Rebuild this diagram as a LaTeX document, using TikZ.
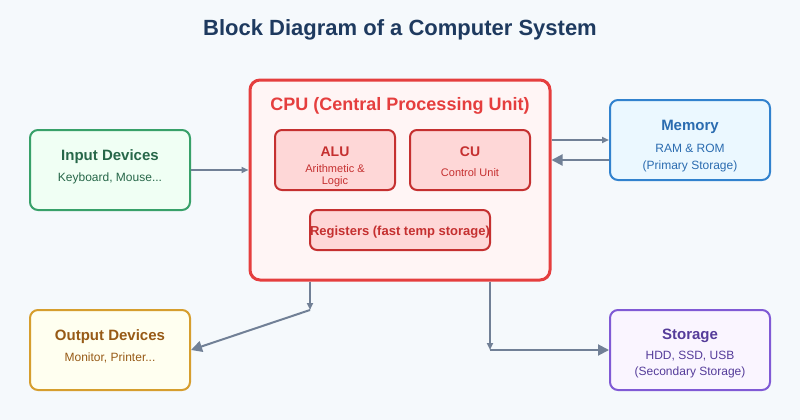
\documentclass[tikz,border=0pt]{standalone}
\usepackage{fontspec}
\setmainfont{Liberation Sans}
\usetikzlibrary{arrows.meta}
\definecolor{bgc}{HTML}{F5F9FC}
\definecolor{titlec}{HTML}{1E3A5F}
\definecolor{linkc}{HTML}{718096}
\definecolor{cpuc}{HTML}{E53E3E}
\definecolor{cpufill}{HTML}{FFF5F5}
\definecolor{partc}{HTML}{C53030}
\definecolor{partfill}{HTML}{FED7D7}
\definecolor{inc}{HTML}{38A169}
\definecolor{infill}{HTML}{F0FFF4}
\definecolor{intext}{HTML}{276749}
\definecolor{memc}{HTML}{3182CE}
\definecolor{memfill}{HTML}{EBF8FF}
\definecolor{memtext}{HTML}{2B6CB0}
\definecolor{outc}{HTML}{D69E2E}
\definecolor{outfill}{HTML}{FFFFF0}
\definecolor{outtext}{HTML}{975A16}
\definecolor{stoc}{HTML}{805AD5}
\definecolor{stofill}{HTML}{FAF5FF}
\definecolor{stotext}{HTML}{553C9A}
\tikzset{
  unit/.style={draw=#1, line width=2pt, rounded corners=8pt,
    minimum width=160pt, minimum height=80pt, inner sep=0pt},
  part/.style={draw=partc, fill=partfill, line width=2pt, rounded corners=7pt,
    inner sep=0pt},
  head/.style={font=\bfseries\fontsize{15}{18}\selectfont, inner sep=0pt, yshift=-2pt},
  sub/.style={font=\fontsize{12}{14}\selectfont, inner sep=0pt, yshift=-2pt},
  link/.style={draw=linkc, line width=2pt},
  small/.style={-{Triangle[length=7pt,width=6pt]}},
  big/.style={-{Triangle[length=11pt,width=11pt]}},
}
\begin{document}
\begin{tikzpicture}[x=1pt, y=-1pt]
	\fill[bgc] (0,0) rectangle (800,420);
	\useasboundingbox (0,0) rectangle (800,420);
	\node[font=\bfseries\fontsize{22}{26}\selectfont, text=titlec, yshift=-2pt] (title) at (400,28) {Block Diagram of a Computer System};

	% cpu and its parts
	\node[draw=cpuc, fill=cpufill, line width=3pt, rounded corners=10pt,
		minimum width=300pt, minimum height=200pt, inner sep=0pt] (cpu) at (400,180) {};
	\node[font=\bfseries\fontsize{18}{22}\selectfont, text=cpuc, inner sep=0pt, yshift=-2pt] (cputxt) at (400,104) {CPU (Central Processing Unit)};
	\node[part, minimum width=120pt, minimum height=60pt] (alu) at (335,160) {};
	\node[head, text=partc, font=\bfseries\fontsize{14}{17}\selectfont] (alutxt) at (335,150) {ALU};
	\node[sub, text=partc, font=\fontsize{11}{12}\selectfont, align=center] (alusub) at (335,174) {Arithmetic \&\\Logic};
	\node[part, minimum width=120pt, minimum height=60pt] (cu) at (470,160) {};
	\node[head, text=partc, font=\bfseries\fontsize{14}{17}\selectfont] (cutxt) at (470,150) {CU};
	\node[sub, text=partc, font=\fontsize{11}{13}\selectfont] (cusub) at (470,171) {Control Unit};
	\node[part, minimum width=180pt, minimum height=40pt] (reg) at (400,230) {};
	\node[head, text=partc, font=\bfseries\fontsize{13}{16}\selectfont] (regtxt) at (400,230) {Registers (fast temp storage)};

	% outer units
	\node[unit=inc, fill=infill] (input) at (110,170) {};
	\node[head, text=intext] (intxt) at (110,155) {Input Devices};
	\node[sub, text=intext] (insub) at (110,176) {Keyboard, Mouse...};

	\node[unit=memc, fill=memfill] (mem) at (690,140) {};
	\node[head, text=memtext] (memtxt) at (690,125) {Memory};
	\node[sub, text=memtext] (memsub) at (690,146) {RAM \& ROM};
	\node[sub, text=memtext] (memsub2) at (690,164) {(Primary Storage)};

	\node[unit=outc, fill=outfill] (output) at (110,350) {};
	\node[head, text=outtext] (outtxt) at (110,335) {Output Devices};
	\node[sub, text=outtext] (outsub) at (110,356) {Monitor, Printer...};

	\node[unit=stoc, fill=stofill] (sto) at (690,350) {};
	\node[head, text=stotext] (stotxt) at (690,334) {Storage};
	\node[sub, text=stotext] (stosub) at (690,354) {HDD, SSD, USB};
	\node[sub, text=stotext] (stosub2) at (690,370) {(Secondary Storage)};

	% connections
	\coordinate (obend) at (310,310);
	\coordinate (sbend) at (490,350);
	\draw[link, small] (input.east) -- (cpu.west |- input.east);
	\draw[link, small] (cpu.east |- 0,140) -- (mem.west |- 0,140);
	\draw[link, big] (mem.west |- 0,160) -- (cpu.east |- 0,160);
	\draw[link, small] (cpu.south -| obend) -- (obend);
	\draw[link, big] (obend) -- (output.east);
	\draw[link, small] (cpu.south -| sbend) -- (sbend);
	\draw[link, big] (sbend) -- (sto.west);
\end{tikzpicture}
\end{document}
